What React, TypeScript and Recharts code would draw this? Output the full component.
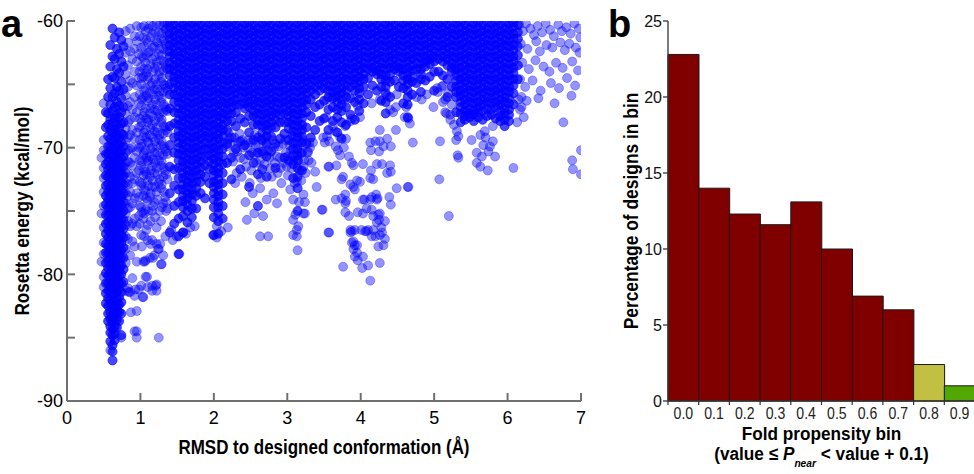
import { Bar, BarChart, Cell, Scatter, ScatterChart, XAxis, YAxis, ZAxis } from "recharts";

const FONT = '"Liberation Sans", Arial, Helvetica, sans-serif';
const AXIS_GREY = "#707070";

// Panel a. Each row: RMSD (Å), then the Rosetta energies of the designs at that RMSD,
// written as tenths of kcal/mol below -60 (12 means -61.2).
// Packed rows are the solid, heavily overplotted blobs.
const packedColumns = [
  "0.53 72 84 105 113 122 130 138 145 153 160 168 176 183 191 199 207 215 223",
  "0.56 46 60 73 82 91 99 105 111 117 123 129 135 141 147 153 159 165 171 177 183 189 195 201 207 213 219 225 231 237",
  "0.59 19 36 53 66 78 86 93 99 105 110 115 120 125 131 136 141 146 152 157 162 167 172 178 183 188 193 199 204 209 214 220 225 230 235 241 246 253",
  "0.62 6 28 44 60 71 80 88 95 101 107 113 119 124 129 134 139 144 150 155 160 165 170 175 180 186 191 196 201 206 211 217 222 227 232 237 243 248 256 261 268",
  "0.65 13 30 45 57 68 77 85 92 99 105 111 117 122 127 133 138 143 148 153 158 164 169 174 179 184 189 195 200 205 210 215 221 226 231 236 242 247 252",
  "0.68 22 38 52 64 74 82 90 97 103 109 115 120 126 131 136 142 147 152 157 162 168 173 178 183 188 194 199 204 209 214 220 225 230 236 242",
  "0.71 9 26 41 55 67 76 84 92 98 104 110 116 122 127 132 138 143 148 154 159 164 169 175 180 185 191 196 201 207 212 218 224 230 237",
  "0.74 15 32 48 61 72 81 89 96 103 109 115 121 127 133 139 145 151 157 163 169 175 181 187 193 200 207 214 222 231 248",
  "0.77 20 36 54 68 80 90 99 107 115 122 129 136 143 150 157 164 171 179 187 196 206",
  "1.40 1 5 10 14 19 24 28 33 38 43 50 58 69 83 98 115 136 167",
  "1.46 3 8 12 17 21 26 30 35 39 44 48 53 58 64 72 81 92 104 117 130 146 160",
  "1.52 1 6 10 15 19 24 28 33 37 42 46 51 55 60 64 69 73 78 82 87 91 96 100 105 110 116 124 133 143 156 170 184",
  "1.58 3 7 12 16 21 25 30 34 39 43 48 52 57 61 66 70 75 79 84 88 93 97 102 106 111 115 120 124 129 133 138 142 147 154 167",
  "1.64 1 5 10 14 19 23 28 32 37 41 46 50 55 59 64 68 73 77 82 86 91 95 100 104 109 113 118 122 127 131 136 140 145 150 159",
  "1.70 2 7 11 16 20 25 29 34 38 43 47 52 56 61 65 70 74 79 83 88 92 97 101 106 110 115 119 124 128 133 137 142 148 155",
  "1.76 1 5 10 14 19 23 28 32 37 41 46 50 55 59 64 68 73 77 82 86 91 95 100 104 109 113 118 122 127 132 138 148",
  "1.82 3 8 12 17 21 26 30 35 39 44 48 53 57 62 66 71 75 80 84 89 93 98 102 107 111 116 121 127 136",
  "1.88 1 6 10 15 19 24 28 33 37 42 46 51 55 60 64 69 73 78 82 87 91 96 101 107 114 123 140",
  "1.94 2 7 11 16 20 25 29 34 38 43 47 52 56 61 65 70 74 79 83 88 92 97 101 106 111 117 128",
  "2.00 1 5 10 14 19 23 28 32 37 41 46 50 55 59 64 68 73 77 82 86 91 95 100 104 109 113 118 122 127 131 136 141 147 155 169",
  "2.06 3 8 12 17 21 26 30 35 39 44 48 53 57 62 66 71 75 80 84 89 93 98 102 107 111 116 120 125 129 134 138 143 147 152 158 168",
  "2.12 1 5 10 14 19 23 28 32 37 41 46 50 55 59 64 68 73 77 82 86 91 96 101 107 113 120 128 137 146 156",
  "2.18 2 7 11 16 20 25 29 34 38 43 47 52 56 61 65 70 74 79 86 97 112",
  "2.24 1 5 10 14 19 23 28 32 37 41 46 50 55 59 64 68 73 79 92 108 125",
  "2.30 3 8 12 17 21 26 30 35 39 44 48 53 57 62 66 72 83 101",
  "2.36 1 6 10 15 19 24 28 33 37 42 46 51 55 60 66 77 95 117",
  "2.42 2 7 11 16 20 25 29 34 38 43 47 52 56 61 65 69 80 98",
  "2.48 1 5 10 14 19 23 28 32 37 41 46 50 55 59 64 68 75 88 106 131",
  "2.54 3 8 12 17 21 26 30 35 39 44 48 53 57 62 66 71 75 82 94 112",
  "2.60 1 6 10 15 19 24 28 33 37 42 46 51 55 60 64 69 73 78 82 92 104 121 146",
  "2.66 2 7 11 16 20 25 29 34 38 43 47 52 56 61 65 70 74 79 83 88 94 103 117",
  "2.72 1 5 10 14 19 23 28 32 37 41 46 50 55 59 64 68 73 77 82 86 91 97 107 123",
  "2.78 3 8 12 17 21 26 30 35 39 44 48 53 57 62 66 71 75 80 84 91 103",
  "2.84 1 6 10 15 19 24 28 33 37 42 46 51 55 60 64 69 73 78 84 97 116",
  "2.90 2 7 11 16 20 25 29 34 38 43 47 52 56 61 65 70 74 80 93",
  "2.96 1 5 10 14 19 23 28 32 37 41 46 50 55 59 64 68 73 80 89 108",
  "3.02 3 8 12 17 21 26 30 35 39 44 48 53 57 62 66 71 75 80 85 94 110",
  "3.08 1 6 10 15 19 24 28 33 37 42 46 51 55 60 64 69 73 78 82 87 91 96 101 106 113 124",
  "3.14 2 7 11 16 20 25 29 34 38 43 47 52 56 61 65 70 74 79 83 88 92 97 101 106 110 116 123 132 150",
  "3.20 1 5 10 14 19 23 28 32 37 41 46 50 55 59 64 68 73 77 82 86 91 96 104 118",
  "3.26 3 8 12 17 21 26 30 35 39 44 48 53 57 62 66 72 84 97",
  "3.32 1 6 10 15 19 24 28 33 37 42 46 51 55 62 75 92",
  "3.38 2 7 11 16 20 25 29 34 38 43 47 52 58 68 86",
  "3.44 1 5 10 14 19 23 28 32 37 41 46 50 55 66 79",
  "3.50 3 8 12 17 21 26 30 35 39 44 48 53 63 77",
  "3.56 1 6 10 15 19 24 28 33 37 42 46 51 55 60 70 86",
  "3.62 2 7 11 16 20 25 29 34 38 43 47 52 56 61 68 79",
  "3.68 1 5 10 14 19 23 28 32 37 41 46 50 55 59 64 70 76 88",
  "3.74 3 8 12 17 21 26 30 35 39 44 48 53 57 62 66 71 80 93",
  "3.80 1 6 10 15 19 24 28 33 37 42 46 51 55 60 68 82",
  "3.86 2 7 11 16 20 25 29 34 38 43 47 52 61 74",
  "3.92 1 5 10 14 19 23 28 32 37 41 46 50 55 64 78",
  "3.98 3 8 12 17 21 26 30 35 39 44 48 53 57 62 71",
  "4.04 1 6 10 15 19 24 28 33 37 42 46 52 65",
  "4.10 2 7 11 16 20 25 29 34 38 45 58",
  "4.16 1 5 10 14 19 23 28 32 37 40 51",
  "4.22 3 8 12 17 21 26 30 35 39 42 55",
  "4.28 1 6 10 15 19 24 28 33 37 42 46 52 63",
  "4.34 2 7 11 16 20 25 29 34 38 43 47 52 57 64 73",
  "4.40 1 5 10 14 19 23 28 32 37 42 48 60",
  "4.46 3 8 12 17 21 26 30 35 38 47",
  "4.52 1 6 10 15 19 24 28 33 37 40 52",
  "4.58 2 7 11 16 20 25 29 34 38 43 47 53 65",
  "4.64 1 5 10 14 19 23 28 32 37 41 46 50 55 60 66 76",
  "4.70 3 8 12 17 21 26 30 35 39 44 48 58",
  "4.76 1 6 10 15 19 24 28 33 38 49",
  "4.82 2 7 11 16 20 25 29 34 38 42 46 56",
  "4.88 1 5 10 14 19 23 28 32 36 47",
  "4.94 3 8 12 17 21 26 30 34 44",
  "5.00 1 6 10 15 19 24 28 32 40 55",
  "5.06 2 7 11 16 20 25 30 40",
  "5.12 1 5 10 14 19 23 28 32 43",
  "5.18 3 8 12 17 21 26 30 35 46 60",
  "5.24 1 6 10 15 19 24 28 33 37 40 52",
  "5.30 2 7 11 16 20 25 29 34 38 43 47 52 56 60 72",
  "5.36 1 5 10 14 19 23 28 32 37 41 46 50 55 59 64 68 73 80",
  "5.42 3 8 12 17 21 26 30 35 39 44 48 53 57 62 66 71 75 78",
  "5.48 1 6 10 15 19 24 28 33 37 42 46 51 55 60 64 69 73 76",
  "5.54 2 7 11 16 20 25 29 34 38 43 47 52 56 61 65 70 74 79",
  "5.60 1 5 10 14 19 23 28 32 37 41 46 50 55 59 64 68 72 76",
  "5.66 3 8 12 17 21 26 30 35 39 44 48 53 57 62 66 71 78",
  "5.72 1 6 10 15 19 24 28 33 37 42 46 51 55 60 64 69 75",
  "5.78 2 7 11 16 20 25 29 34 38 43 47 52 56 61 65 70 74",
  "5.84 1 5 10 14 19 23 28 32 37 41 46 50 55 59 64 68 77",
  "5.90 3 8 12 17 21 26 30 35 39 44 48 53 57 62 66 71 75 79",
  "5.96 1 6 10 15 19 24 28 33 37 42 46 51 55 60 64 69 73 78 83",
  "6.02 2 7 11 16 20 25 29 34 38 43 47 52 56 61 65 70 74 79",
  "6.08 1 5 10 14 19 23 28 32 37 41 46 51 57 66",
  "6.14 3 9 14 20 27 35 46",
];

// Panel a, looser rows: same layout, where the designs only partly overlap.
const looseColumns = [
  "0.47 108 152 190",
  "0.50 65 94 102 116 124 135 146 163 175 184 202 210",
  "0.80 8 25 42 59 73 85 95 104 112 120 128 136 144 152 161 170 180 191",
  "0.83 17 35 52 67 80 92 102 111 120 129 138 148 158 172 211",
  "0.86 6 24 47 64 78 90 101 112 123 135 147 162 185 214",
  "0.89 30 49 70 86 100 114 128 144 160 174 203",
  "0.92 12 22 40 60 76 93 108 125 140 156 178 217 245",
  "0.95 4 16 32 51 72 88 103 120 136 162 190 229 250",
  "0.98 26 45 65 84 100 118 139 154 212",
  "0.99 12 40 58 77 94 110 127 146 160",
  "1.01 5 21 36 50 67 83 99 114 130 147 169 209",
  "1.02 28 45 62 80 97 111 128 151 178",
  "1.04 13 29 44 60 75 91 106 122 138 156 190 218",
  "1.05 4 20 38 55 72 88 104 117 133 152 170",
  "1.07 8 33 53 69 86 102 119 134 149 189 202",
  "1.08 15 27 41 59 77 92 108 121 140 165",
  "1.10 17 38 46 63 80 95 111 126 142 161 173 210",
  "1.11 6 25 44 61 78 96 110 130 150",
  "1.13 3 24 56 73 90 107 123 139 187",
  "1.14 13 34 51 69 85 101 118 136 158 176",
  "1.16 10 30 49 66 82 100 115 131 150 173 209 213",
  "1.17 4 21 40 58 75 92 109 126 146",
  "1.19 20 37 54 70 87 104 120 143 185",
  "1.20 9 28 46 62 79 95 112 131 155",
  "1.22 2 16 33 50 66 84 99 116 135 163 176 208",
  "1.23 17 36 54 71 88 104 121 141",
  "1.25 9 26 43 59 76 93 110 128 180 250",
  "1.26 3 22 40 56 73 90 106 125 150",
  "1.28 14 31 48 64 80 98 114 132 158 192",
  "1.29 10 27 45 61 78 95 111 129 147",
  "1.31 4 22 39 56 72 89 106 123 144 185",
  "1.32 1 15 32 50 66 83 99 116 135",
  "1.34 7 18 34 51 68 84 101 118 139 170",
  "1.35 6 20 37 53 70 86 103 121 143",
  "1.37 2 11 24 38 55 71 88 105 125 148",
];

// Panel a: single designs lying apart from the columns, as "rmsd:tenths below -60".
const strayDesigns = `
1.53:184 1.58:167 1.44:173 1.49:170 1.99:169 2.04:171 1.27:176 1.24:180 1.17:187 1.21:209
1.22:213 1.09:202 1.06:190 1.29:192 1.03:218 0.93:212 0.87:230 0.84:214 0.95:245 0.74:250
0.59:260 0.81:213 1.62:168 1.74:162 2.10:166 2.19:163 1.68:163 2.04:162 1.35:150 1.42:165
2.18:99 2.26:111 2.31:120 2.29:128 2.43:143 2.45:157 2.55:152 2.63:170 2.74:170 2.67:154
2.72:141 2.38:123 2.49:128 2.53:136 2.63:132 2.81:136 2.86:144 2.79:123 2.92:128 3.04:133
3.08:141 3.11:153 3.15:162 3.13:165 3.08:169 3.24:152 3.24:143 3.22:137 3.13:127 3.17:118
3.40:131 3.47:149 3.57:167 2.86:107 2.99:115 2.63:110 2.52:104 2.74:102 3.08:110 3.33:112
3.38:119 2.21:93 2.27:104 2.33:96 2.36:108 2.40:100 2.44:115 2.47:94 2.51:118 2.57:98
2.58:112 2.64:124 2.69:113 2.77:116 2.82:100 2.87:120 2.90:108 2.94:97 2.98:104 3.01:122
3.05:102 3.19:126 3.23:110 3.28:103 3.30:96 3.14:181 3.13:170 3.28:104 3.22:115 3.15:110
3.16:143 3.22:152 3.08:157 2.20:88 2.23:97 2.28:92 2.32:103 2.35:89 2.39:94 2.41:109
2.46:100 2.50:96 2.55:105 2.56:90 2.61:100 2.65:93 2.68:105 2.71:96 2.76:108 2.80:94
2.83:112 2.88:99 2.91:116 2.95:112 2.97:94 3.00:107 3.03:98 3.06:116 3.10:128 3.18:104
3.21:94 3.25:120 3.29:110 3.31:100
3.54:91 3.65:87 3.72:92 3.80:93 3.56:115 3.69:102 3.77:100 3.72:106 3.84:107 3.88:112
4.03:113 4.13:96 4.20:95 4.26:95 4.36:93 4.41:99 4.31:99 4.14:102 4.25:103 4.22:113
4.29:113 4.41:119 4.14:118 4.13:124 4.17:125 3.74:125 3.86:129 3.90:131 3.95:126 3.92:133
4.49:132 4.64:131 4.71:96 4.48:86 4.26:86 3.79:137 3.80:142 3.66:141 4.05:141 4.15:139
4.21:137 4.22:141 4.39:139 4.41:145 3.48:149 3.79:151 3.84:154 3.96:151 4.03:152 4.15:149
4.17:154 4.24:153 4.25:157 4.22:159 4.28:163 4.10:165 4.17:165 4.06:166 3.88:166 3.92:165
4.20:170 4.26:169 4.33:172 4.31:177 4.24:178 3.90:174 3.92:177 3.90:180 3.95:183 3.92:186
4.03:186 3.96:189 3.76:194 4.02:195 4.10:193 4.26:191 4.13:205 3.86:167 3.88:175 3.95:177
4.08:166 3.35:96 3.49:92 3.57:95 3.57:115 3.67:114 3.76:123 3.90:114 3.99:127 4.40:114
4.36:120 4.03:141 4.13:141 4.23:140 4.65:131 4.08:148 4.26:152 4.33:158 4.15:170 4.29:167
3.74:140 3.79:144 3.56:167 3.86:165 4.01:165 3.54:62 3.65:60 3.53:76 3.62:83 3.51:96
3.66:99 3.86:79 3.99:76 3.88:77 3.79:83 3.96:67 4.15:65 4.26:62 4.36:59 4.49:58
4.40:70 4.44:72 4.48:68 4.62:68 4.60:76 4.65:77 4.67:81 4.76:60 4.83:62 4.90:58
5.04:53 5.10:52 5.15:62 5.17:73 5.22:78 5.31:87 5.33:91 5.51:94 5.63:90 5.80:83
5.67:98 5.76:99 5.58:104 5.65:107 5.74:103 5.83:107 5.58:112 5.63:115 5.73:118 5.07:125
5.20:154 5.08:95 5.32:106 5.33:108 5.30:94 5.70:92 5.80:95 6.08:116 5.69:87 5.12:51
5.05:56 5.19:57 5.12:64 5.24:66 5.15:72 5.22:74 6.76:80 6.88:110 6.89:117 7.00:102
7.00:121 6.15:62 6.17:70 6.22:76 6.13:80 6.19:68 4.99:68 5.27:82
6.16:3 6.21:8 6.25:2 6.31:6 6.36:11 6.41:4 6.47:9 6.52:2 6.58:7 6.63:12 6.69:3 6.74:8
6.80:5 6.86:10 6.91:2 6.97:6 6.99:13 6.18:18 6.27:22 6.39:16 6.44:24 6.53:19 6.61:21
6.72:17 6.78:23 6.84:18 6.93:21 6.98:25 6.20:33 6.29:38 6.38:31 6.49:36 6.57:40 6.66:33
6.75:37 6.88:32 6.96:39 6.17:46 6.24:52 6.34:47 6.45:55 6.59:49 6.70:53 6.81:45 6.92:51
6.19:60 6.26:63 6.42:61 6.64:65 6.87:59
`;

const rmsdTicks = [0, 1, 2, 3, 4, 5, 6, 7];
const energyTicks = [-90, -85, -80, -75, -70, -65, -60];

// Panel b
const foldBins = ["0.0", "0.1", "0.2", "0.3", "0.4", "0.5", "0.6", "0.7", "0.8", "0.9"];
const binPercent = [22.8, 14.0, 12.3, 11.6, 13.1, 10.0, 6.9, 6.0, 2.4, 1.0];
const binColors = ["#800000", "#800000", "#800000", "#800000", "#800000", "#800000", "#800000", "#800000", "#c1c043", "#50a800"];
const percentTicks = [0, 5, 10, 15, 20, 25];

const toEnergy = (tenths: number) => -(60 + tenths / 10);

const fromRows = (rows: string[]) =>
  rows.flatMap((row) => {
    const [rmsd, ...below] = row.split(" ").map(Number);
    return below.map((t) => ({ rmsd, energy: toEnergy(t) }));
  });

const packedDesigns = fromRows(packedColumns);
const looseDesigns = [
  ...fromRows(looseColumns),
  ...strayDesigns
    .trim()
    .split(/\s+/)
    .map((pair) => {
      const [rmsd, t] = pair.split(":").map(Number);
      return { rmsd, energy: toEnergy(t) };
    }),
];

const binData = foldBins.map((bin, i) => ({ bin, pct: binPercent[i] }));

function Title({ x, y, size, squeeze, rotate = false, children }: any) {
  return (
    <text
      transform={`translate(${x},${y}) rotate(${rotate ? -90 : 0}) scale(${squeeze},1)`}
      textAnchor="middle"
      fontSize={size}
      fontWeight="bold"
      fill="#000"
    >
      {children}
    </text>
  );
}

function BinTick(props: any) {
  const { x, y, payload } = props;
  const half = payload?.offset ?? 0;
  return (
    <g>
      <line x1={x - half} x2={x - half} y1={y} y2={y + 4} stroke="#333" strokeWidth={1.2} />
      <text
        transform={`translate(${x},${y + 7}) scale(0.88,1)`}
        dy="0.71em"
        textAnchor="middle"
        fontSize={16}
        fill="#222"
      >
        {payload.value}
      </text>
    </g>
  );
}

export default function App() {
  return (
    <div
      style={{
        position: "absolute",
        left: 0,
        top: 0,
        width: 974,
        height: 474,
        overflow: "hidden",
        background: "#fff",
        fontFamily: FONT,
      }}
    >
      <div style={{ position: "absolute", left: 0, top: 0 }}>
        <ScatterChart width={600} height={474} margin={{ top: 21, right: 19, bottom: 0, left: 0 }}>
          <XAxis
            type="number"
            dataKey="rmsd"
            domain={[0, 7]}
            ticks={rmsdTicks}
            interval={0}
            allowDataOverflow
            height={73}
            tickSize={-8}
            tickMargin={18}
            axisLine={{ stroke: AXIS_GREY, strokeWidth: 2 }}
            tickLine={{ stroke: AXIS_GREY, strokeWidth: 2 }}
            tick={{ fill: "#000", fontSize: 18 }}
            label={(p: any) => (
              <Title x={p.viewBox.x + p.viewBox.width / 2} y={p.viewBox.y + 53} size={19.5} squeeze={0.87}>
                RMSD to designed conformation (Å)
              </Title>
            )}
          />
          <YAxis
            type="number"
            dataKey="energy"
            domain={[-90, -60]}
            ticks={energyTicks}
            interval={0}
            allowDataOverflow
            width={67}
            tickSize={-8}
            tickMargin={12}
            tickFormatter={(v: number) => (v % 10 === 0 ? String(v) : "")}
            axisLine={{ stroke: AXIS_GREY, strokeWidth: 2 }}
            tickLine={{ stroke: AXIS_GREY, strokeWidth: 2 }}
            tick={{ fill: "#000", fontSize: 18 }}
            label={(p: any) => (
              <Title rotate x={p.viewBox.x + 29} y={p.viewBox.y + p.viewBox.height / 2} size={20} squeeze={0.86}>
                Rosetta energy (kcal/mol)
              </Title>
            )}
          />
          <ZAxis range={[60, 60]} />
          <Scatter
            data={looseDesigns}
            isAnimationActive={false}
            fill="#0000ff"
            fillOpacity={0.42}
            stroke="#0000ff"
            strokeOpacity={0.32}
            strokeWidth={1}
          />
          <Scatter
            data={packedDesigns}
            isAnimationActive={false}
            fill="#0000ff"
            fillOpacity={0.72}
            stroke="#0000ff"
            strokeOpacity={0.6}
            strokeWidth={1}
          />
        </ScatterChart>
      </div>

      <div style={{ position: "absolute", left: 600, top: 0 }}>
        <BarChart
          width={375}
          height={474}
          data={binData}
          margin={{ top: 21, right: 0, bottom: 0, left: 0 }}
          barCategoryGap={0}
        >
          <XAxis
            dataKey="bin"
            height={73}
            interval={0}
            tickSize={0}
            tickMargin={0}
            tickLine={false}
            axisLine={{ stroke: "#333", strokeWidth: 1.3 }}
            tick={<BinTick />}
            label={(p: any) => {
              const cx = p.viewBox.x + p.viewBox.width / 2;
              return (
                <g>
                  <Title x={cx} y={p.viewBox.y + 39} size={18.5} squeeze={0.93}>
                    Fold propensity bin
                  </Title>
                  <Title x={cx} y={p.viewBox.y + 59} size={18.5} squeeze={0.93}>
                    (value ≤ <tspan fontStyle="italic">P</tspan>
                    <tspan fontStyle="italic" fontSize={11} dy={7}>near</tspan>
                    <tspan dy={-7}> &lt; value + 0.1)</tspan>
                  </Title>
                </g>
              );
            }}
          />
          <YAxis
            type="number"
            domain={[0, 25]}
            ticks={percentTicks}
            interval={0}
            width={68}
            tickSize={5}
            tickMargin={1}
            axisLine={{ stroke: "#333", strokeWidth: 1.3 }}
            tickLine={{ stroke: "#333", strokeWidth: 1.3 }}
            tick={{ fill: "#111", fontSize: 16 }}
            label={(p: any) => (
              <Title rotate x={p.viewBox.x + 38} y={p.viewBox.y + p.viewBox.height / 2} size={20} squeeze={0.87}>
                Percentage of designs in bin
              </Title>
            )}
          />
          <Bar dataKey="pct" isAnimationActive={false} stroke="#1a1a1a" strokeWidth={1}>
            {binData.map((d, i) => (
              <Cell key={d.bin} fill={binColors[i]} />
            ))}
          </Bar>
        </BarChart>
      </div>

      <svg
        width={974}
        height={474}
        style={{ position: "absolute", left: 0, top: 0, pointerEvents: "none" }}
      >
        <text x={1} y={37} fontSize={38} fontWeight="bold" fill="#000">
          a
        </text>
        <text x={608} y={37} fontSize={38} fontWeight="bold" fill="#000">
          b
        </text>
      </svg>
    </div>
  );
}
